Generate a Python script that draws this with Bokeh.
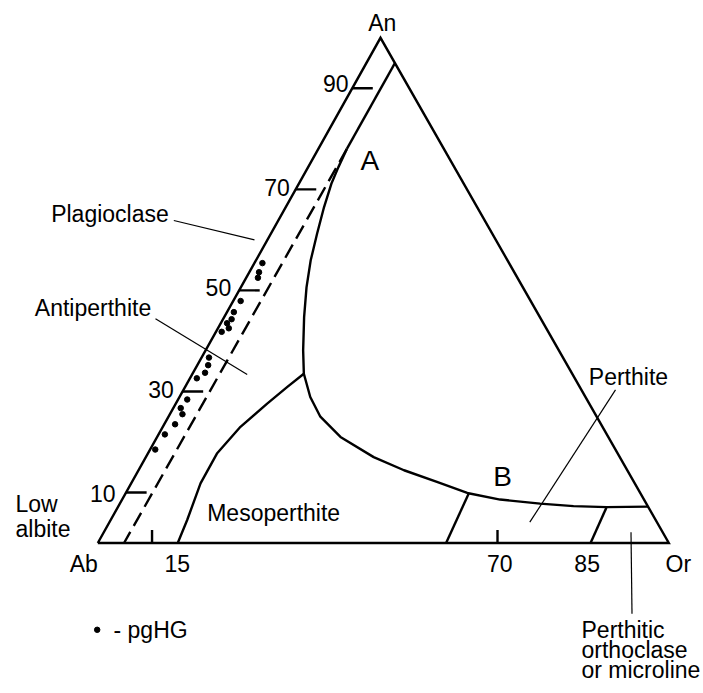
from bokeh.plotting import figure
from bokeh.models import Range1d
from bokeh.embed import file_html
from bokeh.resources import INLINE
from bokeh.core.properties import value

# ---------------- data (ternary percentages: An, Or; Ab = 100 - An - Or) ----------------
left_tick_an = [10, 30, 50, 70, 90]
left_tick_labels = ["10", "30", "50", "70", "90"]
left_tick_len_or = 3.6

base_tick_or = [9.5, 70]
base_label_or = [13.9, 70.4, 85.7]
base_label_texts = ["15", "70", "85"]

# boundary of field A / B (solvus-like curve)
curveA_an = [78, 74.4, 71.1, 66.5, 61.2, 55.9, 50.6, 44.7, 38.1, 33.5, 28.9, 25.0,
             21.0, 17.0, 14.4, 12.1, 9.9, 8.6, 7.8, 7.3, 7.1, 7.2]
curveA_or = [5.0, 5.3, 5.7, 6.7, 8.1, 9.6, 11.5, 14.0, 17.1, 19.5, 22.9, 26.6,
             32.1, 39.9, 46.5, 53.4, 59.8, 66.2, 73.6, 79.7, 85.6, 92.8]

# mesoperthite boundary
meso_an = [0, 4.55, 11.8, 17.7, 23.0, 27.6, 30.9, 33.5]
meso_or = [14.0, 13.4, 12.15, 12.1, 13.6, 16.0, 17.9, 19.5]

# perthite subdivisions
lineB1_an = [0, 9.9]
lineB1_or = [61.0, 60.1]
lineB2_an = [0, 7.0]
lineB2_or = [86.3, 85.6]

# plagioclase limit (Or ~ 5 %)
plag_solid_an = [95, 78]
plag_solid_or = [5.0, 5.0]
plag_dash_an = [78, 0]
plag_dash_or = [5.0, 4.6]

# pgHG analyses
pg_an = [55.4, 53.6, 52.5, 47.9, 45.7, 44.3, 43.5, 42.5, 41.8, 36.7, 35.2, 33.7,
         32.6, 28.4, 26.7, 25.5, 23.5, 21.5, 18.5]
pg_or = [1.4, 1.7, 2.05, 1.3, 1.2, 1.5, 1.1, 1.9, 1.0, 1.3, 1.9, 2.1,
         1.2, 1.6, 1.3, 2.2, 1.9, 1.1, 0.9]

# ---------------- geometry ----------------
K = 0.4951            # horizontal shift of the apex
SX, SY = 5.71, 5.052  # px per percent
AB_PX, AB_PY = 97.3, 542.5
W, H = 703, 693
TDY = -8              # text baseline correction (px)


def tern(an, orr):
    xs = [o + K * a for a, o in zip(an, orr)]
    ys = list(an)
    return xs, ys


def px(x):
    return (x - AB_PX) / SX


def py(y):
    return (AB_PY - y) / SY


p = figure(width=W, height=H,
           x_range=Range1d(px(0), px(W)),
           y_range=Range1d(py(H), py(0)),
           x_axis_type=None, y_axis_type=None,
           output_backend="svg", toolbar_location=None, min_border=0)
p.grid.visible = False
p.outline_line_color = None
p.background_fill_color = "white"

LW = 2.4
# triangle
tx, ty = tern([0, 100, 0, 0], [0, 0, 100, 0])
p.line(tx, ty, line_color="black", line_width=LW, line_join="miter")

# plagioclase limit
x, y = tern(plag_solid_an, plag_solid_or)
p.line(x, y, line_color="black", line_width=LW)
x, y = tern(plag_dash_an, plag_dash_or)
p.line(x, y, line_color="black", line_width=LW, line_dash="15 7")

# curves
x, y = tern(curveA_an, curveA_or)
p.line(x, y, line_color="black", line_width=LW, line_join="round")
x, y = tern(meso_an, meso_or)
p.line(x, y, line_color="black", line_width=LW, line_join="round")
x, y = tern(lineB1_an, lineB1_or)
p.line(x, y, line_color="black", line_width=LW)
x, y = tern(lineB2_an, lineB2_or)
p.line(x, y, line_color="black", line_width=LW)

# left ticks
for a in left_tick_an:
    x, y = tern([a, a], [0, left_tick_len_or])
    p.line(x, y, line_color="black", line_width=LW)
# base ticks (vertical)
for o in base_tick_or:
    p.line([o, o], [0, 13 / SY], line_color="black", line_width=LW)

# data points
x, y = tern(pg_an, pg_or)
p.scatter(x, y, size=5.5, color="black")

FONT = value("Liberation Sans")
FS = "23px"


def label(text, x, y, align="left", size=FS):
    p.text(x=[px(x)], y=[py(y + TDY)], text=[text], text_font=FONT, text_font_size=size,
           text_align=align, text_baseline="alphabetic", text_color="black")


# left tick labels
lab_pos = [(115, 500.7), (173.3, 397.3), (230.7, 295), (289.3, 195), (348, 90.7)]
for t, (lx, ly) in zip(left_tick_labels, lab_pos):
    label(t, lx, ly, align="right")

# base labels
for t, o in zip(base_label_texts, base_label_or):
    p.text(x=[o], y=[py(571 + TDY)], text=[t], text_font=FONT, text_font_size=FS,
           text_align="center", text_baseline="alphabetic")

label("An", 381.7, 30, align="center")
label("Ab", 97.3, 571.5, align="right")
label("Or", 665, 571)

label("Plagioclase", 168.3, 221.7, align="right")
label("Antiperthite", 150.7, 315, align="right")
label("Perthite", 588.3, 384)
label("Perthitic", 581, 637)
label("orthoclase", 581, 657)
label("or microline", 581, 677)
label("Low", 15, 511.7)
label("albite", 15, 536.7)
label("Mesoperthite", 206.7, 520)
label("A", 360, 168.3, size="28px")
label("B", 492.7, 484, size="28px")
label("- pgHG", 113, 637.3)
p.scatter([px(96.7)], [py(629.3)], size=5.5, color="black")

# leader lines
leaders = [((173.3, 220), (254, 239.3)),
           ((155, 318.3), (246.7, 374)),
           ((615, 389.3), (529.3, 521.7)),
           ((630.5, 531.7), (631.5, 613.3))]
for (x0, y0), (x1, y1) in leaders:
    p.line([px(x0), px(x1)], [py(y0), py(y1)], line_color="black", line_width=1.2)

open("out.html", "w").write(file_html(p, INLINE))
